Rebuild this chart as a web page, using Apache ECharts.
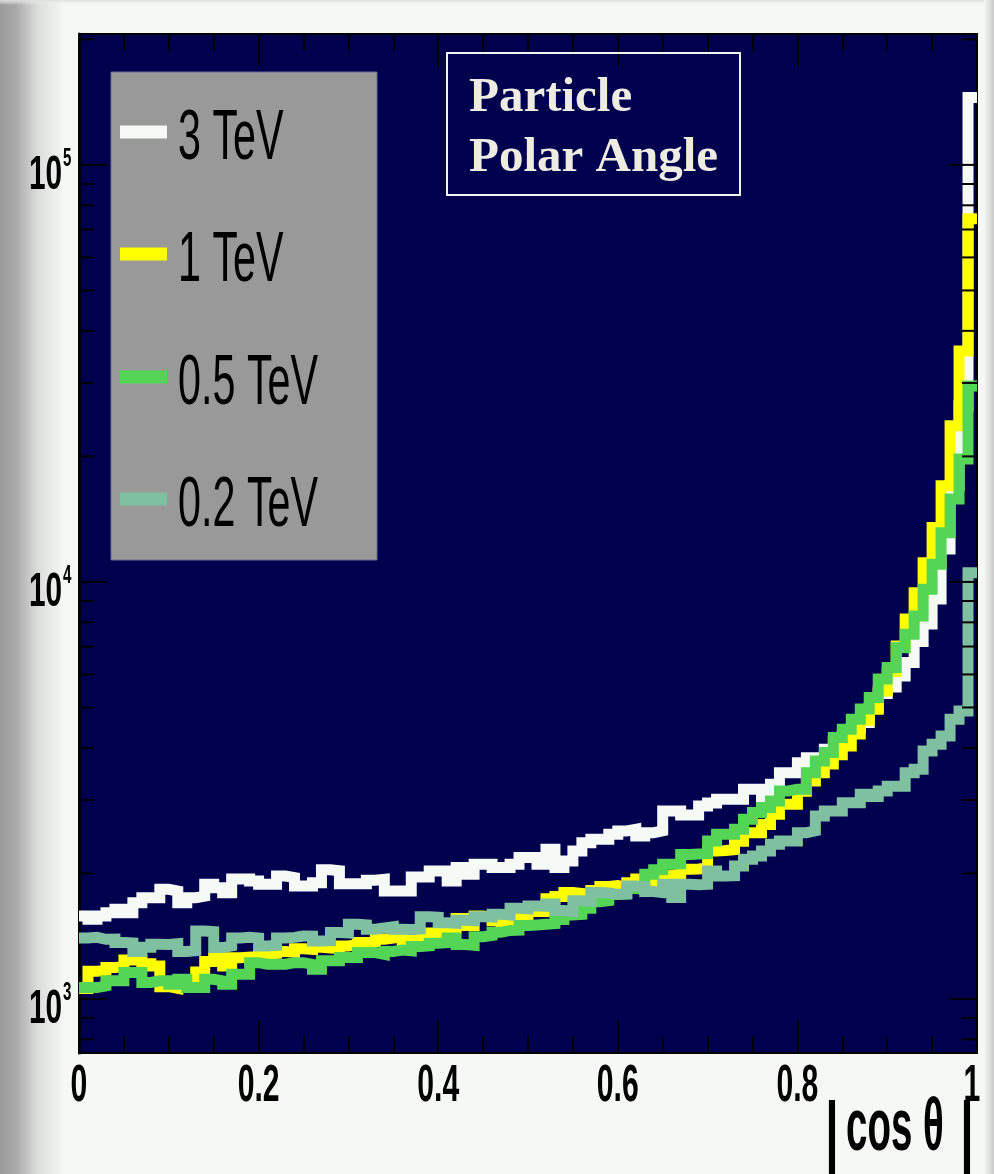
<!DOCTYPE html>
<html>
<head>
<meta charset="utf-8">
<script src="https://cdn.jsdelivr.net/npm/echarts@6/dist/echarts.min.js"></script>
<style>
  html, body { margin: 0; padding: 0; background: #f5f8f5; }
  #chart { width: 994px; height: 1174px; }
</style>
</head>
<body>
<div id="chart"></div>
<script>
// Histogram of |cos theta| for particles, 100 bins from 0 to 1, one series per beam energy.
const binCount = 100;
const binWidth = 0.01;

const seriesNames = ['3 TeV', '1 TeV', '0.5 TeV', '0.2 TeV'];
const seriesColors = ['#f6faf6', '#ffff00', '#55d555', '#7fc0a0'];

// Entries per bin (bin i covers [i*0.01, (i+1)*0.01])
const counts3TeV = [
  1582, 1553, 1582, 1610, 1640, 1610, 1702, 1749, 1749, 1832,
  1815, 1702, 1749, 1765, 1884, 1849, 1798, 1940, 1940, 1918,
  1884, 1884, 1972, 1955, 1866, 1866, 1900, 2040, 2030, 1890,
  1890, 1890, 1925, 1936, 1815, 1815, 1815, 1960, 1960, 2028,
  2028, 1918, 2065, 1991, 2104, 2104, 2065, 2065, 2104, 2183,
  2183, 2104, 2285, 2065, 2143, 2265, 2370, 2415, 2415, 2483,
  2528, 2552, 2460, 2505, 2530, 2824, 2824, 2760, 2760, 2900,
  2950, 3011, 3011, 3011, 3184, 3184, 3011, 3273, 3489, 3489,
  3687, 3790, 3790, 3970, 4150, 4300, 4450, 4600, 5000, 5400,
  5600, 5950, 6410, 7200, 7930, 9100, 12000, 17000, 26400, 145000
];
const counts1TeV = [
  1060, 1165, 1170, 1190, 1195, 1240, 1240, 1215, 1200, 1070,
  1060, 1075, 1070, 1160, 1230, 1255, 1200, 1255, 1260, 1240,
  1280, 1285, 1300, 1295, 1320, 1315, 1330, 1325, 1320, 1340,
  1350, 1365, 1370, 1390, 1400, 1410, 1380, 1360, 1420, 1440,
  1450, 1480, 1560, 1500, 1580, 1570, 1540, 1480, 1500, 1560,
  1650, 1620, 1740, 1760, 1800, 1790, 1780, 1820, 1860, 1870,
  1850, 1900, 1940, 1920, 1960, 1980, 1990, 2046, 2050, 2060,
  2265, 2270, 2280, 2390, 2505, 2505, 2620, 2773, 2930, 2930,
  3150, 3330, 3489, 3660, 3850, 4040, 4320, 4660, 4950, 5477,
  6100, 7025, 8150, 9420, 11120, 13500, 17000, 23700, 35800, 74300
];
const counts05TeV = [
  1065, 1065, 1075, 1105, 1105, 1157, 1157, 1095, 1105, 1105,
  1085, 1115, 1065, 1065, 1115, 1105, 1085, 1146, 1146, 1222,
  1211, 1211, 1211, 1222, 1222, 1211, 1178, 1234, 1234, 1257,
  1257, 1292, 1292, 1280, 1300, 1310, 1305, 1335, 1340, 1360,
  1365, 1400, 1350, 1345, 1410, 1420, 1445, 1460, 1462, 1500,
  1505, 1510, 1515, 1550, 1590, 1595, 1650, 1710, 1720, 1780,
  1785, 1840, 1830, 1990, 2040, 2104, 2110, 2220, 2225, 2230,
  2392, 2483, 2483, 2552, 2698, 2798, 2877, 2984, 3154, 3184,
  3184, 3489, 3722, 3898, 4235, 4436, 4688, 4955, 5284, 5847,
  6235, 6955, 7490, 8286, 9600, 11020, 13120, 15800, 19700, 29500
];
const counts02TeV = [
  1400, 1405, 1390, 1392, 1365, 1362, 1300, 1330, 1353, 1350,
  1356, 1300, 1305, 1456, 1450, 1328, 1340, 1400, 1405, 1400,
  1340, 1345, 1400, 1405, 1416, 1415, 1378, 1380, 1443, 1440,
  1510, 1505, 1470, 1480, 1490, 1470, 1468, 1472, 1575, 1570,
  1524, 1520, 1545, 1540, 1575, 1572, 1596, 1590, 1650, 1645,
  1670, 1668, 1690, 1630, 1620, 1720, 1715, 1800, 1795, 1782,
  1785, 1866, 1860, 1810, 1800, 1884, 1750, 1884, 1880, 1884,
  2027, 1972, 1975, 2084, 2163, 2203, 2265, 2350, 2392, 2392,
  2505, 2530, 2746, 2824, 2824, 2955, 2955, 3097, 3060, 3154,
  3238, 3238, 3489, 3555, 3933, 4080, 4272, 4688, 4900, 10520
];
const seriesCounts = [counts3TeV, counts1TeV, counts05TeV, counts02TeV];

// Axis ranges and ticks
const xMin = 0, xMax = 1;
const yMin = 742, yMax = 206000;
const xTickValues = [0, 0.2, 0.4, 0.6, 0.8, 1];
const xTickLabels = ['0', '0.2', '0.4', '0.6', '0.8', '1'];
const yDecadeTicks = [1000, 10000, 100000];
const yDecadeExponents = ['3', '4', '5'];
const yMinorTicks = [800, 900, 2000, 3000, 4000, 5000, 6000, 7000, 8000, 9000,
  20000, 30000, 40000, 50000, 60000, 70000, 80000, 90000, 200000];

const FONT = '"Liberation Sans", Arial, Helvetica, sans-serif';

// Step outline of a histogram: one point at each bin's low edge plus the closing edge
function histogramPoints(counts) {
  const pts = counts.map((c, i) => [i * binWidth, c]);
  pts.push([binCount * binWidth, counts[counts.length - 1]]);
  return pts;
}

const histSeries = seriesNames.map((name, k) => ({
  name: name,
  type: 'line',
  step: 'end',
  showSymbol: false,
  symbol: 'none',
  z: 3 + k,
  lineStyle: { color: seriesColors[k], width: 11, join: 'miter', cap: 'butt' },
  data: histogramPoints(seriesCounts[k]),
  animation: false
}));

// Log-axis tick marks on the left and right frame edges (2..9 subdivisions per decade)
const yTickSeries = {
  type: 'custom',
  coordinateSystem: 'cartesian2d',
  z: 20,
  silent: true,
  animation: false,
  data: yDecadeTicks.map(v => [0.5, v, 1]).concat(yMinorTicks.map(v => [0.5, v, 0])),
  renderItem(params, api) {
    const p = api.coord([0.5, api.value(1)]);
    const cs = params.coordSys;
    const len = api.value(2) ? 28 : 15;
    const st = { stroke: '#000', lineWidth: 2 };
    return {
      type: 'group',
      children: [
        { type: 'line', shape: { x1: cs.x, y1: p[1], x2: cs.x + len, y2: p[1] }, style: st },
        { type: 'line', shape: { x1: cs.x + cs.width - len, y1: p[1], x2: cs.x + cs.width, y2: p[1] }, style: st }
      ]
    };
  }
};

// Decade labels 10^n on the left
const yLabelSeries = {
  type: 'custom',
  coordinateSystem: 'cartesian2d',
  z: 20,
  silent: true,
  animation: false,
  data: yDecadeTicks.map(v => [0, v]),
  renderItem(params, api) {
    const p = api.coord([0, api.value(1)]);
    const exp = yDecadeExponents[params.dataIndex];
    return {
      type: 'group',
      children: [
        { type: 'text', x: p[0] - 17, y: p[1] + 11, scaleX: 0.62,
          style: { text: '10', fontSize: 48, fontWeight: 'bold', fontFamily: FONT, fill: '#000',
                   align: 'right', verticalAlign: 'middle' } },
        { type: 'text', x: p[0] - 16, y: p[1] - 6, scaleX: 0.58,
          style: { text: exp, fontSize: 26, fontWeight: 'bold', fontFamily: FONT, fill: '#000',
                   align: 'left', verticalAlign: 'middle' } }
      ]
    };
  }
};

// Numeric labels under the x axis
const xLabelSeries = {
  type: 'custom',
  coordinateSystem: 'cartesian2d',
  z: 20,
  silent: true,
  animation: false,
  data: xTickValues.map(v => [v, yMin]),
  renderItem(params, api) {
    const p = api.coord([api.value(0), yMin]);
    return {
      type: 'text', x: Math.min(p[0], 972), y: p[1] + 34, scaleX: 0.58,
      style: { text: xTickLabels[params.dataIndex], fontSize: 52, fontWeight: 'bold', fontFamily: FONT,
               fill: '#000', align: 'center', verticalAlign: 'middle' }
    };
  }
};

const legendTop = 72, legendLeft = 111, legendW = 266, legendH = 488;
const legendRowY = [132, 254, 377, 499];

const legendElements = [
  { type: 'rect', shape: { x: legendLeft, y: legendTop, width: legendW, height: legendH },
    style: { fill: '#999999', stroke: '#6b6b95', lineWidth: 1 }, z: 50 }
];
seriesNames.forEach((name, k) => {
  legendElements.push({
    type: 'rect', shape: { x: 120, y: legendRowY[k] - 6.5, width: 47, height: 13 },
    style: { fill: seriesColors[k] }, z: 51
  });
  legendElements.push({
    type: 'text', x: 178, y: legendRowY[k] + 8, scaleX: 0.59,
    style: { text: name, fontSize: 70, fontFamily: FONT, fill: '#000', align: 'left', verticalAlign: 'middle' },
    z: 51
  });
});

const titleElements = [
  { type: 'rect', shape: { x: 447, y: 53, width: 293, height: 142 },
    style: { fill: 'none', stroke: '#f2f2ee', lineWidth: 2 }, z: 50 },
  { type: 'text', x: 469, y: 98,
    style: { text: 'Particle', fontSize: 49, fontWeight: 'bold', fontFamily: '"Liberation Serif", "Times New Roman", serif',
             fill: '#eeebe2', align: 'left', verticalAlign: 'middle' }, z: 51 },
  { type: 'text', x: 469, y: 158,
    style: { text: 'Polar Angle', fontSize: 49, fontWeight: 'bold', fontFamily: '"Liberation Serif", "Times New Roman", serif',
             fill: '#eeebe2', align: 'left', verticalAlign: 'middle' }, z: 51 }
];

const axisTitleElements = [
  { type: 'text', x: 832, y: 1136, scaleX: 0.6,
    style: { text: '|', fontSize: 80, fontWeight: 'bold', fontFamily: FONT, fill: '#000', align: 'center', verticalAlign: 'middle' } },
  { type: 'text', x: 846, y: 1130, scaleX: 0.52,
    style: { text: 'cos θ', fontSize: 74, fontWeight: 'bold', fontFamily: FONT, fill: '#000', align: 'left', verticalAlign: 'middle' } },
  { type: 'text', x: 967, y: 1136, scaleX: 0.6,
    style: { text: '|', fontSize: 80, fontWeight: 'bold', fontFamily: FONT, fill: '#000', align: 'center', verticalAlign: 'middle' } }
];

// Page frame shading
const frameElements = [
  { type: 'rect', shape: { x: 0, y: 0, width: 64, height: 1174 }, z: -10,
    style: { fill: new echarts.graphic.LinearGradient(0, 0, 1, 0, [
      { offset: 0, color: '#9a9a9a' }, { offset: 0.25, color: '#a9a9a9' },
      { offset: 0.6, color: '#dcdedc' }, { offset: 1, color: '#f5f8f5' }]) } },
  { type: 'rect', shape: { x: 0, y: 0, width: 994, height: 5 }, z: -9,
    style: { fill: new echarts.graphic.LinearGradient(0, 0, 0, 1, [
      { offset: 0, color: '#dcdcdc' }, { offset: 1, color: 'rgba(245,248,245,0)' }]) } },
  { type: 'rect', shape: { x: 984, y: 0, width: 10, height: 1174 }, z: -9,
    style: { fill: new echarts.graphic.LinearGradient(0, 0, 1, 0, [
      { offset: 0, color: '#f5f8f5' }, { offset: 1, color: '#c9c9c9' }]) } }
];

const xAxisCommon = {
  type: 'value', min: xMin, max: xMax, interval: 0.2,
  axisLine: { show: true, lineStyle: { color: '#000', width: 2 } },
  axisTick: { show: true, inside: true, length: 33, lineStyle: { color: '#000', width: 2 } },
  minorTick: { show: true, splitNumber: 4, length: 17, lineStyle: { color: '#000', width: 2 } },
  axisLabel: { show: false },
  splitLine: { show: false },
  minorSplitLine: { show: false }
};

const chart = echarts.init(document.getElementById('chart'), null, { renderer: 'canvas' });
chart.setOption({
  backgroundColor: '#f5f8f5',
  animation: false,
  grid: {
    left: 79, right: 17, top: 34, bottom: 121,
    show: true, backgroundColor: '#00004f', borderColor: '#000', borderWidth: 2
  },
  xAxis: [
    Object.assign({ position: 'bottom' }, xAxisCommon),
    Object.assign({ position: 'top' }, xAxisCommon, { axisTick: { show: true, inside: true, length: 32, lineStyle: { color: '#000', width: 2 } } })
  ],
  yAxis: {
    type: 'log', logBase: 10, min: yMin, max: yMax,
    axisLine: { show: true, lineStyle: { color: '#000', width: 3 } },
    axisTick: { show: false },
    axisLabel: { show: false },
    splitLine: { show: false }
  },
  graphic: frameElements.concat(legendElements, titleElements, axisTitleElements),
  series: histSeries.concat([yTickSeries, yLabelSeries, xLabelSeries])
});
</script>
</body>
</html>
